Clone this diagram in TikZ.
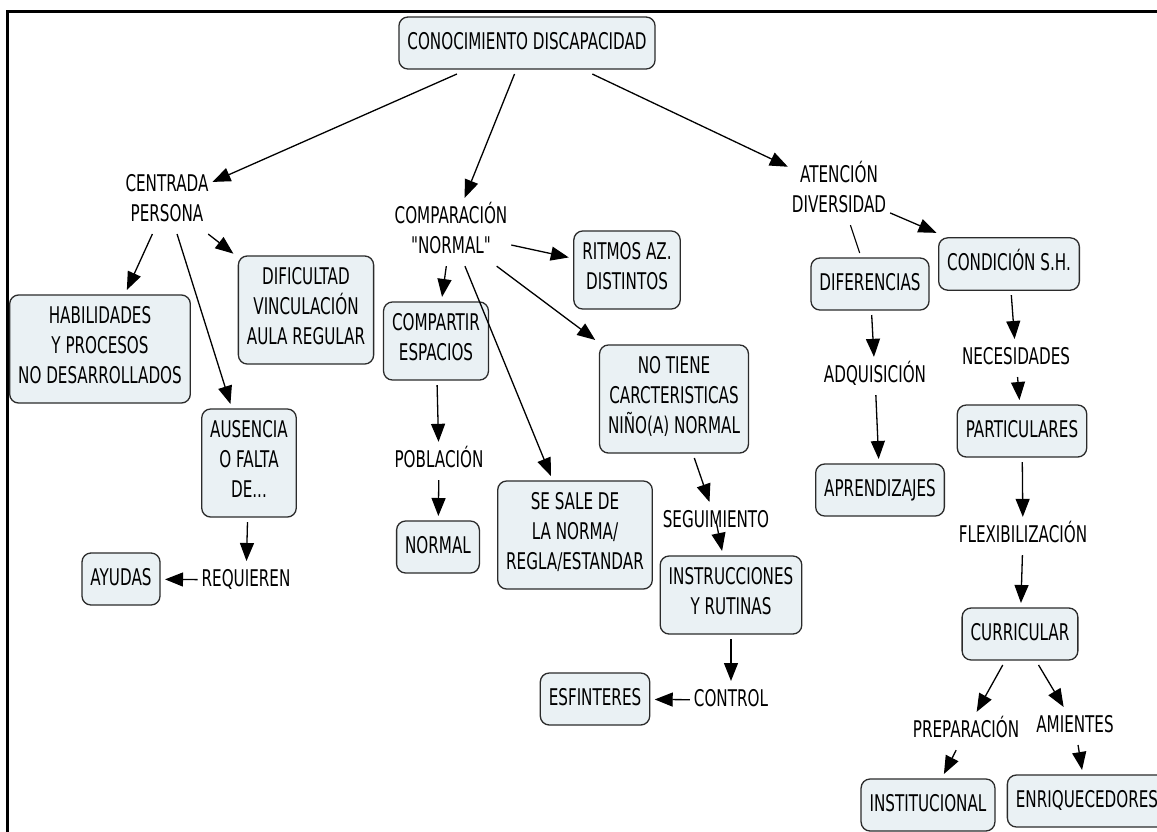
\documentclass[tikz,border=0pt]{standalone}
\usepackage{fontspec}
\usepackage{xcolor}
\usepackage{tikz}
\usetikzlibrary{arrows.meta}
\newfontfamily\cmapfont{DejaVu Sans}[FakeStretch=0.66]
\definecolor{cmapfill}{HTML}{EAF1F4}
\definecolor{cmapline}{HTML}{2B2B2B}

\begin{document}
\begin{tikzpicture}[x=1pt, y=-1pt,
  concept/.style={draw=cmapline, fill=cmapfill, line width=1.3pt, rounded corners=9pt, align=center, font=\cmapfont\fontsize{23}{30}\selectfont, inner xsep=8.5pt, inner ysep=11pt, outer sep=5pt, execute at begin node=\strut, execute at end node=\strut},
  linkword/.style={align=center, font=\cmapfont\fontsize{23}{30}\selectfont, inner sep=2pt, outer sep=2pt, execute at begin node=\strut, execute at end node=\strut},
  link/.style={line width=1.3pt, -{Triangle[length=18pt, width=14pt]}},
  plainlink/.style={line width=1.1pt}]
\path [use as bounding box, fill=white] (0,0) rectangle (1157,831);
\draw [line width=3pt] (7,11) rectangle (1180,860);

\node (conocimiento) [concept] at (527,43) {CONOCIMIENTO DISCAPACIDAD};

\node (centrada) [linkword] at (167,202) {CENTRADA\\PERSONA};

\node (comparacion) [linkword] at (451,232) {COMPARACIÓN\\"NORMAL"};

\node (atencion) [linkword] at (839,191) {ATENCIÓN\\DIVERSIDAD};

\node (habilidades) [concept] at (100,349) {HABILIDADES\\Y PROCESOS\\NO DESARROLLADOS};

\node (dificultad) [concept] at (306,310) {DIFICULTAD\\VINCULACIÓN\\AULA REGULAR};

\node (ausencia) [concept] at (249,463) {AUSENCIA\\O FALTA\\DE...};

\node (requieren) [linkword] at (246,580) {REQUIEREN};

\node (ayudas) [concept] at (121,579) {AYUDAS};

\node (compartir) [concept] at (436,341) {COMPARTIR\\ESPACIOS};

\node (poblacion) [linkword] at (439,461) {POBLACIÓN};

\node (normal) [concept] at (438,547) {NORMAL};

\node (ritmos) [concept] at (627,270) {RITMOS AZ.\\DISTINTOS};

\node (notiene) [concept] at (674,399) {NO TIENE\\CARCTERISTICAS\\NIÑO(A) NORMAL};

\node (sesale) [concept] at (575,535) {SE SALE DE\\LA NORMA/\\REGLA/ESTANDAR};

\node (seguimiento) [linkword] at (716,521) {SEGUIMIENTO};

\node (instrucciones) [concept] at (731,595) {INSTRUCCIONES\\Y RUTINAS};

\node (control) [linkword] at (731,700) {CONTROL};

\node (esfinteres) [concept] at (595,699) {ESFINTERES};

\node (diferencias) [concept] at (870,284) {DIFERENCIAS};

\node (adquisicion) [linkword] at (875,376) {ADQUISICIÓN};

\node (aprendizajes) [concept] at (880,490) {APRENDIZAJES};

\node (condicion) [concept] at (1009,264) {CONDICIÓN S.H.};

\node (necesidades) [linkword] at (1016,358) {NECESIDADES};

\node (particulares) [concept] at (1022,431) {PARTICULARES};

\node (flexibilizacion) [linkword] at (1023,536) {FLEXIBILIZACIÓN};

\node (curricular) [concept] at (1020,634) {CURRICULAR};

\node (preparacion) [linkword] at (966,731) {PREPARACIÓN};

\node (amientes) [linkword] at (1075,726) {AMIENTES};

\node (institucional) [concept] at (928,805) {INSTITUCIONAL};

\node (enriquecedores) [concept] at (1087,801) {ENRIQUECEDORES};

\draw [link] (conocimiento) -- (centrada);
\draw [link] (conocimiento) -- (comparacion);
\draw [link] (conocimiento) -- (atencion);

\draw [link] (centrada) -- (habilidades);
\draw [link] (centrada) -- (ausencia);
\draw [link] (centrada) -- (dificultad);
\draw [link] (ausencia) -- (requieren);
\draw [link] (requieren) -- (ayudas);

\draw [link] (comparacion) -- (ritmos);
\draw [link] (comparacion) -- (compartir);
\draw [link] (comparacion) -- (sesale);
\draw [link] (comparacion) -- (notiene);
\draw [link] (compartir) -- (poblacion);
\draw [link] (poblacion) -- (normal);
\draw [link] (notiene) -- (seguimiento);
\draw [link] (seguimiento.center) -- (instrucciones);
\draw [link] (instrucciones) -- (control);
\draw [link] (control) -- (esfinteres);

\draw [plainlink] (atencion) -- (diferencias);
\draw [link] (atencion) -- (condicion);
\draw [link] (diferencias) -- (adquisicion);
\draw [link] (adquisicion) -- (aprendizajes);
\draw [link] (condicion) -- (necesidades);
\draw [link] (necesidades) -- (particulares);
\draw [link] (particulares) -- (flexibilizacion);
\draw [link] (flexibilizacion) -- (curricular);
\draw [link] (curricular) -- (preparacion);
\draw [link] (curricular) -- (amientes);
\draw [link] (preparacion) -- (institucional);
\draw [link] (amientes) -- (enriquecedores);
\end{tikzpicture}
\end{document}
